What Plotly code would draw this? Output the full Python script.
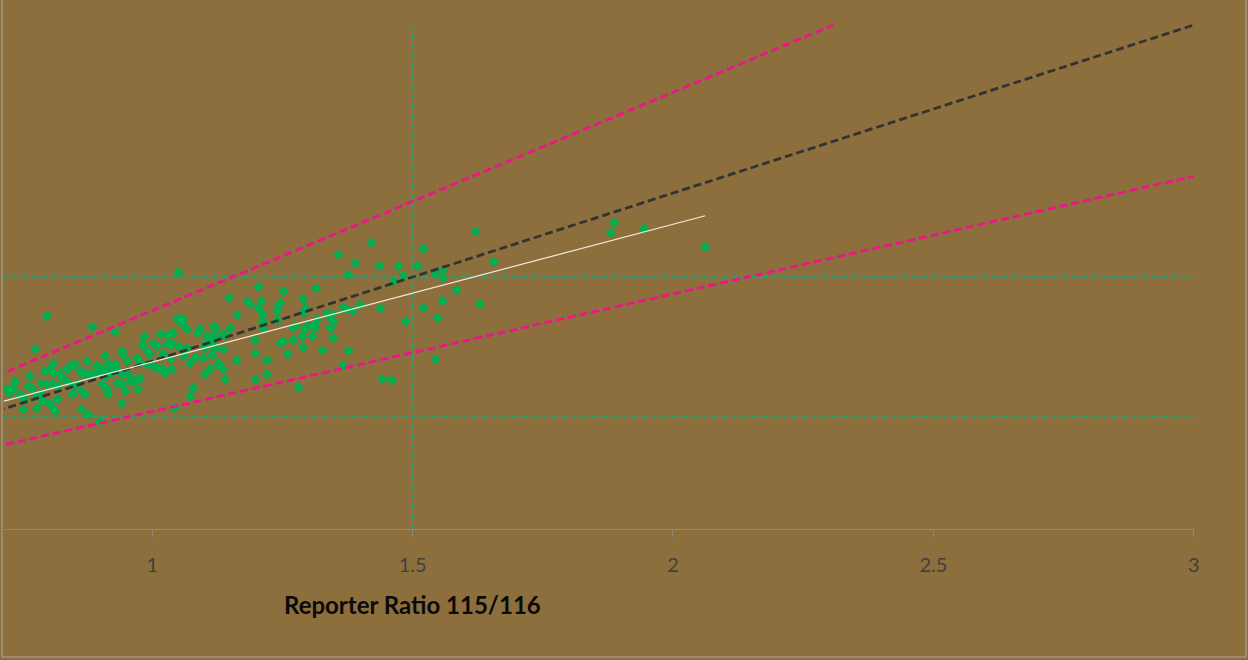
import plotly.graph_objects as go
import numpy as np

# ---- data ----
ratio_x = [0.798,0.885,0.929,0.775,0.985,1.017,1.031,1.040,1.048,1.002,1.010,0.981,0.942,0.944,0.990,0.996,1.029,1.040,1.021,0.810,
0.910,0.952,0.875,0.852,0.842,0.837,0.894,0.900,0.915,0.919,0.929,0.971,0.977,0.990,1.002,1.010,0.794,0.804,0.810,0.765,
0.823,0.827,0.837,0.862,0.867,0.875,0.885,0.894,0.906,0.913,0.923,0.935,0.942,0.954,0.958,0.971,0.977,1.019,1.025,1.038,
0.737,0.762,0.769,0.721,0.733,0.727,0.788,0.798,0.810,0.819,0.846,0.856,0.904,0.913,0.915,0.933,0.942,0.948,0.963,0.973,
0.746,0.752,0.756,0.779,0.785,0.819,0.790,0.804,0.810,0.814,0.848,0.865,0.871,0.779,0.752,0.865,0.877,0.942,1.044,0.900,
1.050,1.204,1.315,1.252,1.148,1.290,1.183,1.188,1.210,1.204,1.246,1.242,1.240,1.294,1.290,1.367,1.375,1.163,1.212,1.212,
1.213,1.240,1.054,1.060,1.058,1.317,1.313,1.337,1.346,1.348,1.275,1.271,1.298,1.294,1.313,1.342,1.067,1.092,1.088,1.119,
1.121,1.150,1.106,1.112,1.121,1.137,1.140,1.038,1.213,1.308,1.288,1.271,1.246,1.252,1.348,1.198,1.035,1.050,1.067,1.102,
1.102,1.117,1.121,1.137,1.290,1.327,1.377,1.198,1.260,1.060,1.083,1.098,1.115,1.035,1.073,1.127,1.131,1.137,1.112,1.163,
1.221,1.367,1.102,1.140,1.198,1.221,1.281,1.079,1.073,
1.421,1.621,1.521,1.358,1.390,1.437,1.473,1.510,1.656,1.887,1.881,1.944,2.062,1.377,1.483,1.463,1.544,1.558,1.558,1.585,
1.558,1.629,1.521,1.438,1.400,1.385,1.548,1.487,1.342,1.544,1.442,1.460]
ratio_y = [1.268,1.202,1.172,1.070,1.148,1.160,1.154,1.166,1.250,1.106,1.088,1.100,1.059,1.041,1.059,1.041,1.100,1.100,1.041,0.987,
1.029,0.999,0.999,0.981,0.969,0.951,0.969,0.957,0.981,0.957,0.981,1.017,0.987,0.981,0.969,0.957,0.939,0.951,0.927,0.909,
0.927,0.897,0.879,0.939,0.921,0.927,0.921,0.927,0.939,0.909,0.927,0.939,0.921,0.921,0.879,0.891,0.897,0.951,0.927,0.951,
0.879,0.849,0.838,0.832,0.838,0.808,0.867,0.861,0.861,0.849,0.849,0.861,0.861,0.832,0.802,0.867,0.861,0.820,0.879,0.832,
0.802,0.778,0.772,0.790,0.802,0.772,0.760,0.748,0.718,0.700,0.802,0.820,0.802,0.718,0.712,0.712,0.682,0.748,0.718,0.640,
1.530,1.441,1.435,1.417,1.375,1.369,1.357,1.339,1.357,1.315,1.345,1.327,1.297,1.315,1.285,1.315,1.309,1.273,1.279,1.237,
1.219,1.243,1.255,1.249,1.219,1.249,1.219,1.285,1.273,1.231,1.208,1.196,1.208,1.190,1.196,1.196,1.190,1.190,1.166,1.208,
1.190,1.196,1.148,1.136,1.148,1.160,1.148,1.166,1.190,1.148,1.148,1.124,1.106,1.118,1.136,1.124,1.100,1.088,1.076,1.106,
1.076,1.100,1.076,1.070,1.082,1.064,1.059,1.047,1.041,1.029,1.023,1.017,1.035,1.011,0.987,0.987,0.969,0.951,0.957,1.005,
1.005,0.975,0.921,0.891,0.891,0.921,0.843,0.838,0.790,
1.704,1.769,1.668,1.632,1.584,1.566,1.566,1.566,1.590,1.823,1.763,1.787,1.680,1.513,1.507,1.471,1.525,1.537,1.495,1.423,
1.357,1.339,1.315,1.315,1.333,1.297,1.255,1.237,1.261,1.011,0.891,0.885]

x_ticks = [1, 1.5, 2, 2.5, 3]
x_tick_labels = ["1", "1.5", "2", "2.5", "3"]
axis_title = "Reporter Ratio 115/116"

identity_x = [0, 3]
identity_y = [0, 3]
upper_factor = 1.3
lower_factor = 0.7
trend_slope = 0.82
trend_intercept = 0.174
trend_x_range = [0.60, 2.062]
threshold_hi = 1.5
threshold_lo = 1 / 1.5
threshold_x = 1.5

# ---- figure ----
BG = "#8C6F3D"
PINK = "#EE1489"
TEAL = "#2A9F6E"
DARK = "#333333"

fig = go.Figure()

# threshold lines
for xs, ys in (([0, 3], [threshold_hi, threshold_hi]),
               ([0, 3], [threshold_lo, threshold_lo]),
               ([threshold_x, threshold_x], [0, 3])):
    fig.add_trace(go.Scatter(x=xs, y=ys, mode="lines",
                             line=dict(color=TEAL, width=2.2, dash="6px,4px"), hoverinfo="skip"))

# data points
fig.add_trace(go.Scatter(x=ratio_x, y=ratio_y, mode="markers",
                         marker=dict(symbol="diamond", size=8, color="#00B050",
                                     line=dict(width=0))))

# bounds
ux = [0, 3 / upper_factor]
fig.add_trace(go.Scatter(x=ux, y=[v * upper_factor for v in ux], mode="lines",
                         line=dict(color=PINK, width=2.8, dash="8px,4px")))
lx = [0, 3]
fig.add_trace(go.Scatter(x=lx, y=[v * lower_factor for v in lx], mode="lines",
                         line=dict(color=PINK, width=2.8, dash="8px,4px")))
# identity
fig.add_trace(go.Scatter(x=identity_x, y=identity_y, mode="lines",
                         line=dict(color=DARK, width=2.8, dash="8px,4px")))
# trend
tx = np.array(trend_x_range)
fig.add_trace(go.Scatter(x=tx, y=trend_slope * tx + trend_intercept, mode="lines",
                         line=dict(color="#F3EBDD", width=1.2)))

FONT = "Lato, Open Sans, sans-serif"

fig.update_layout(
    width=1248, height=660,
    margin=dict(l=4, r=54, t=4, b=131),
    paper_bgcolor=BG, plot_bgcolor=BG,
    showlegend=False,
    font=dict(family=FONT),
    xaxis=dict(range=[0.7154, 3.0005], tickvals=x_ticks, ticktext=x_tick_labels,
               showgrid=False, zeroline=False, showline=True, linecolor="#8E8A80",
               linewidth=1, ticks="outside", ticklen=7, tickcolor="#8E8A80",
               tickfont=dict(size=20, color="#404040", family=FONT),
               ticklabelstandoff=11),
    yaxis=dict(range=[0, 3.1254], showgrid=False, zeroline=False, showline=False,
               showticklabels=False, ticks=""),
    annotations=[dict(text="<b>" + axis_title + "</b>", xref="paper", yref="paper",
                      x=(412 - 4) / 1190, y=(529 - 604) / 525, xanchor="center",
                      yanchor="middle", showarrow=False,
                      font=dict(size=24, color="#0A0A0A", family=FONT))],
    shapes=[dict(type="rect", xref="paper", yref="paper",
                 x0=(2 - 4) / 1190, x1=(1246 - 4) / 1190,
                 y0=(529 - 657) / 525, y1=(529 + 10) / 525,
                 line=dict(color="#A9A9A9", width=1), fillcolor="rgba(0,0,0,0)", layer="below")],
)

fig.write_html("out.html", config={"displayModeBar": False})

# remove default page margin so the figure sits at the window origin
with open("out.html", "r", encoding="utf-8") as f:
    html = f.read()
html = html.replace("<head>", "<head><style>html,body{margin:0;padding:0;overflow:hidden;}</style>", 1)
with open("out.html", "w", encoding="utf-8") as f:
    f.write(html)
